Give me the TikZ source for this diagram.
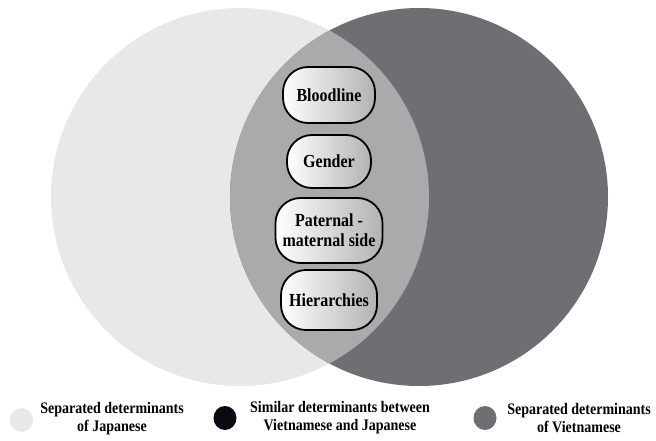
\documentclass[tikz,border=0pt]{standalone}
\usepackage{fontspec}
\setmainfont{Liberation Serif}
\usetikzlibrary{positioning}
\definecolor{japlight}{HTML}{E8E8E8}
\definecolor{vietdark}{HTML}{6F6E73}
\definecolor{lensgray}{HTML}{AAAAAC}
\definecolor{dotblack}{HTML}{0A0A12}
\tikzset{
  factor/.style={draw=black, line width=1.8pt, rounded corners=25pt,
    left color=white, right color=black!30, align=center,
    font=\fontsize{16}{20}\selectfont\bfseries, inner sep=2pt},
  keydot/.style={ellipse, minimum width=23pt, minimum height=24pt, inner sep=0pt},
  keytext/.style={align=center, font=\fontsize{14}{18}\selectfont\bfseries, inner sep=0pt}
}
\usetikzlibrary{shapes.geometric}
\begin{document}
\begin{tikzpicture}[x=1pt,y=-1pt]
        \useasboundingbox (0,0) rectangle (656,441);
        \coordinate (jp) at (240,197);
        \coordinate (vn) at (419,197);
        \fill[japlight] (jp) circle (189);
        \fill[vietdark] (vn) circle (189);
        \begin{scope}
            \clip (jp) circle (189);
            \fill[lensgray] (vn) circle (189);
        \end{scope}
        \node[factor, minimum width=92pt, minimum height=56pt] (blood) at (329,95) {\scalebox{1}[1.15]{Bloodline}};
        \node[factor, minimum width=84pt, minimum height=53pt] (gender) at (329,161.5) {\scalebox{1}[1.15]{Gender}};
        \node[factor, minimum width=107pt, minimum height=65pt] (side) at (329,230.5) {\scalebox{1}[1.15]{Paternal -}\\\scalebox{1}[1.15]{maternal side}};
        \node[factor, minimum width=96pt, minimum height=60pt] (hier) at (329,300) {\scalebox{1}[1.15]{Hierarchies}};
        \node[keydot, fill=japlight] (k1) at (21.5,420) {};
        \node[keydot, fill=dotblack] (k2) at (225,418) {};
        \node[keydot, fill=vietdark] (k3) at (485,418) {};
        \node[keytext] (t1) at (112,419) {\scalebox{1}[1.15]{Separated determinants}\\\scalebox{1}[1.15]{of Japanese}};
        \node[keytext] (t2) at (340,418) {\scalebox{1}[1.15]{Similar determinants between}\\\scalebox{1}[1.15]{Vietnamese and Japanese}};
        \node[keytext] (t3) at (579,418) {\scalebox{1}[1.15]{Separated determinants}\\\scalebox{1}[1.15]{of Vietnamese}};
\end{tikzpicture}
\end{document}
